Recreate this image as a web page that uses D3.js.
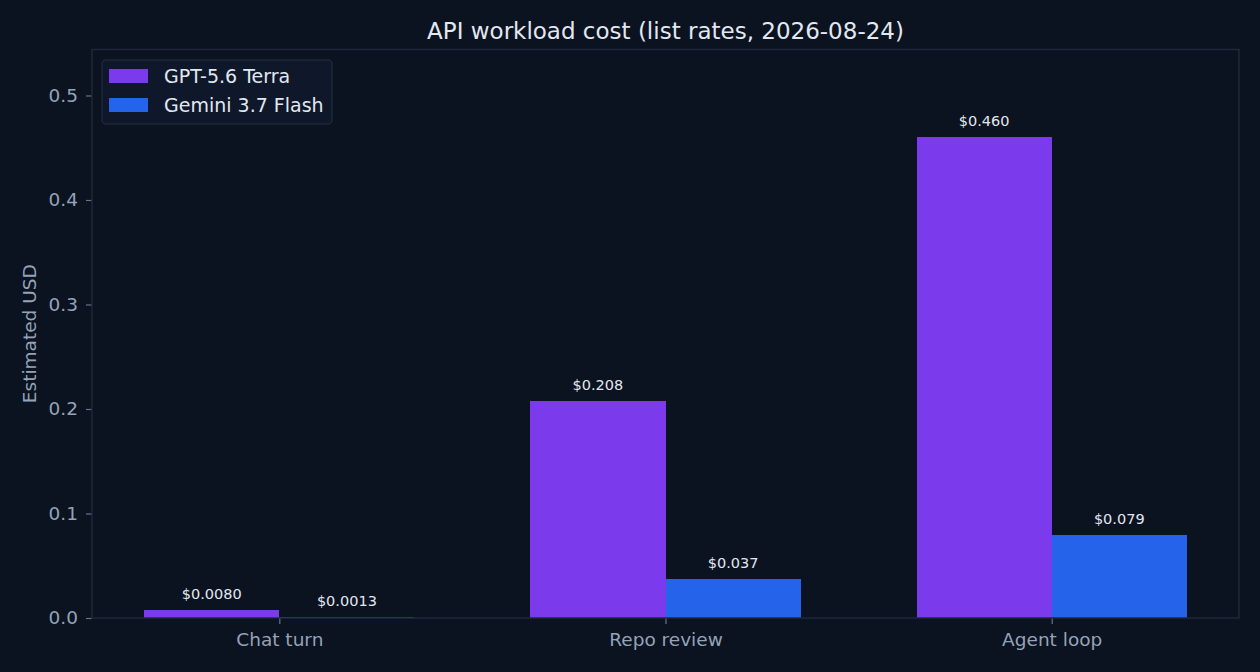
<!DOCTYPE html>
<html>
<head>
  <meta charset="utf-8">
  <title>API workload cost</title>
  <style>
    body { margin: 0; background: #0b1220; }
    svg { display: block; font-family: "DejaVu Sans", sans-serif; }
  </style>
  <script src="https://d3js.org/d3.v7.min.js"></script>
</head>
<body>
<svg id="chart" width="1260" height="672"></svg>
<script>
  // data
  var workloads = ['Chat turn', 'Repo review', 'Agent loop'];
  var models = ['GPT-5.6 Terra', 'Gemini 3.7 Flash'];
  var terraCost = [0.0080, 0.208, 0.460];
  var flashCost = [0.0013, 0.037, 0.079];
  var costLabels = [['$0.0080', '$0.208', '$0.460'], ['$0.0013', '$0.037', '$0.079']];
  var yTicks = [0, 0.1, 0.2, 0.3, 0.4, 0.5];
  var colors = ['#7c3aed', '#2563eb'];

  var series = [terraCost, flashCost];
  var svg = d3.select('#chart');
  var margin = { left: 92, right: 21, top: 49.5, bottom: 54 };
  var width = 1260 - margin.left - margin.right;
  var height = 672 - margin.top - margin.bottom;
  var barW = 0.35;

  var x = d3.scaleLinear().domain([-0.485, 2.485]).range([0, width]);
  var y = d3.scaleLinear().domain([0, 0.544]).range([height, 0]);

  svg.append('rect').attr('width', 1260).attr('height', 672).attr('fill', '#0b1220');

  var g = svg.append('g').attr('transform', 'translate(' + margin.left + ',' + margin.top + ')');

  // bars and value labels
  series.forEach(function (vals, s) {
    var off = (s === 0 ? -barW : 0);
    g.selectAll('.bar' + s)
      .data(vals)
      .enter()
      .append('rect')
      .attr('x', function (d, i) { return x(i + off); })
      .attr('width', x(barW) - x(0))
      .attr('y', function (d) { return y(d); })
      .attr('height', function (d) { return y(0) - y(d); })
      .attr('shape-rendering', 'crispEdges')
      .attr('fill', colors[s]);

    g.selectAll('.lab' + s)
      .data(vals)
      .enter()
      .append('text')
      .attr('x', function (d, i) { return x(i + off + barW / 2); })
      .attr('y', function (d) { return y(d) - 11; })
      .attr('text-anchor', 'middle')
      .attr('font-size', 14.5)
      .attr('fill', '#e2e8f0')
      .text(function (d, i) { return costLabels[s][i]; });
  });

  // axes
  var yAxis = d3.axisLeft(y).tickValues(yTicks).tickFormat(d3.format('.1f')).tickSize(6).tickPadding(8);
  var yg = g.append('g').call(yAxis);
  var xAxis = d3.axisBottom(x).tickValues([0, 1, 2]).tickFormat(function (d) { return workloads[d]; }).tickSize(6).tickPadding(9);
  var xg = g.append('g').attr('transform', 'translate(0,' + height + ')').call(xAxis);

  [yg, xg].forEach(function (ax) {
    ax.select('.domain').remove();
    ax.selectAll('.tick line').attr('stroke', '#64748b').attr('stroke-width', 1.2);
    ax.selectAll('.tick text').attr('fill', '#94a3b8').attr('font-size', 18.5)
      .attr('font-family', '"DejaVu Sans", sans-serif');
  });

  // spines
  g.append('rect')
    .attr('width', width).attr('height', height)
    .attr('fill', 'none').attr('stroke', '#1e293b').attr('stroke-width', 1.5);

  // title and axis label
  svg.append('text')
    .attr('x', margin.left + width / 2).attr('y', 39)
    .attr('text-anchor', 'middle').attr('font-size', 23).attr('fill', '#e2e8f0')
    .text('API workload cost (list rates, 2026-08-24)');

  svg.append('text')
    .attr('transform', 'translate(36,' + (margin.top + height / 2) + ') rotate(-90)')
    .attr('text-anchor', 'middle').attr('font-size', 18.5).attr('fill', '#94a3b8')
    .text('Estimated USD');

  // legend
  var lg = svg.append('g').attr('transform', 'translate(102,60)');
  lg.append('rect')
    .attr('width', 230).attr('height', 64).attr('rx', 4)
    .attr('fill', '#0f172a').attr('stroke', '#1e293b').attr('stroke-width', 1.5);
  models.forEach(function (m, i) {
    lg.append('rect')
      .attr('x', 7).attr('y', 9 + i * 29).attr('width', 39).attr('height', 14)
      .attr('fill', colors[i]);
    lg.append('text')
      .attr('x', 62).attr('y', 23 + i * 29)
      .attr('font-size', 19).attr('fill', '#e2e8f0')
      .text(m);
  });
</script>
</body>
</html>
